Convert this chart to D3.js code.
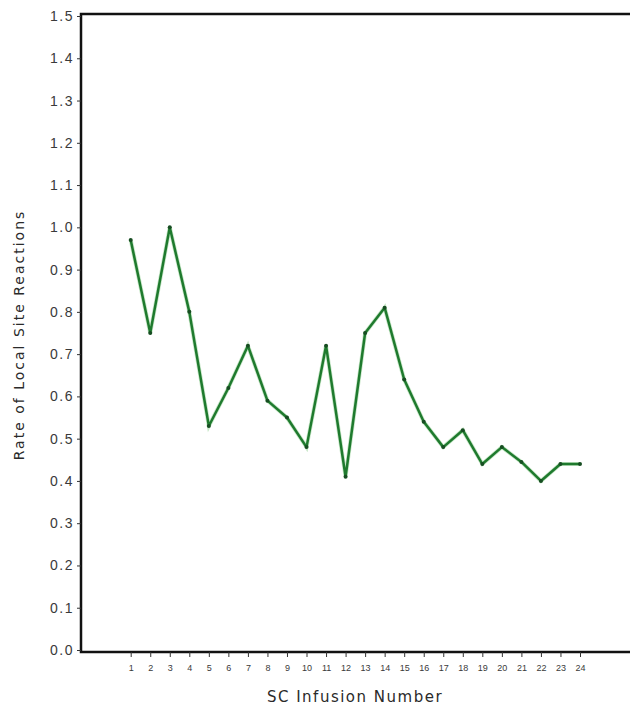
<!DOCTYPE html>
<html>
<body style="margin:0;background:#fff">

<script src="https://d3js.org/d3.v7.min.js"></script>
<style>
body { font-family: "DejaVu Sans", sans-serif; }
.y.axis text { font-size: 14px; fill: #3a3a3a; letter-spacing: 1.5px; }
.x.axis text { font-size: 9px; fill: #3a3a3a; }
.axis line { stroke: #333; }
.axis-title { fill: #2a2a2a; }
</style>

<script>

// infusion numbers and rate of local site reactions
var infusion = d3.range(1, 25);
var rate = [0.97, 0.75, 1.00, 0.80, 0.53, 0.62, 0.72, 0.59, 0.55, 0.48, 0.72, 0.41,
            0.75, 0.81, 0.64, 0.54, 0.48, 0.52, 0.44, 0.48, 0.445, 0.40, 0.44, 0.44];
var yTicks = [0, 0.1, 0.2, 0.3, 0.4, 0.5, 0.6, 0.7, 0.8, 0.9, 1.0, 1.1, 1.2, 1.3, 1.4, 1.5];

var data = infusion.map(function(d, i) { return {x: d, y: rate[i]}; });

var width = 630, height = 705;
var margin = {top: 16, left: 81, bottom: 55};

var svg = d3.select("body").append("svg")
    .attr("width", width)
    .attr("height", height);

var xScale = d3.scaleLinear()
    .domain([1, 24])
    .range([130.7, 580]);

var yScale = d3.scaleLinear()
    .domain([0, 1.5])
    .range([height - margin.bottom - 0, margin.top]);

// frame: top and left, bottom axis line
svg.append("path")
    .attr("d", "M" + width + "," + (margin.top - 2) + "H" + margin.left + "V" + (yScale(0) + 2) + "H" + width)
    .attr("fill", "none")
    .attr("stroke", "#111")
    .attr("stroke-width", 2.5);

var yAxis = d3.axisLeft(yScale)
    .tickValues(yTicks)
    .tickFormat(d3.format(".1f"))
    .tickSize(4)
    .tickPadding(3);

svg.append("g")
    .attr("class", "y axis")
    .attr("transform", "translate(" + margin.left + ",0)")
    .call(yAxis)
    .call(function(g) { g.select(".domain").remove(); });

var xAxis = d3.axisBottom(xScale)
    .tickValues(infusion)
    .tickFormat(d3.format("d"))
    .tickSize(5)
    .tickPadding(8);

svg.append("g")
    .attr("class", "x axis")
    .attr("transform", "translate(0," + (yScale(0) + 2) + ")")
    .call(xAxis)
    .call(function(g) { g.select(".domain").remove(); });

var line = d3.line()
    .x(function(d) { return xScale(d.x); })
    .y(function(d) { return yScale(d.y); });

svg.append("path")
    .datum(data)
    .attr("fill", "none")
    .attr("stroke", "#8fd08f")
    .attr("stroke-width", 4)
    .attr("stroke-opacity", 0.5)
    .attr("d", line);

svg.append("path")
    .datum(data)
    .attr("fill", "none")
    .attr("stroke", "#1f7a2e")
    .attr("stroke-width", 2.5)
    .attr("stroke-linejoin", "round")
    .attr("d", line);

svg.selectAll(".dot")
    .data(data)
  .enter().append("circle")
    .attr("class", "dot")
    .attr("cx", function(d) { return xScale(d.x); })
    .attr("cy", function(d) { return yScale(d.y); })
    .attr("r", 2)
    .attr("fill", "#174d22");

svg.append("text")
    .attr("class", "axis-title")
    .attr("x", 355)
    .attr("y", 702)
    .attr("text-anchor", "middle")
    .style("font-size", "15px")
    .style("letter-spacing", "1.5px")
    .text("SC Infusion Number");

svg.append("text")
    .attr("class", "axis-title")
    .attr("transform", "translate(24," + 335 + ") rotate(-90)")
    .attr("text-anchor", "middle")
    .style("font-size", "14px")
    .style("letter-spacing", "2px")
    .text("Rate of Local Site Reactions");

</script>
</body>
</html>
